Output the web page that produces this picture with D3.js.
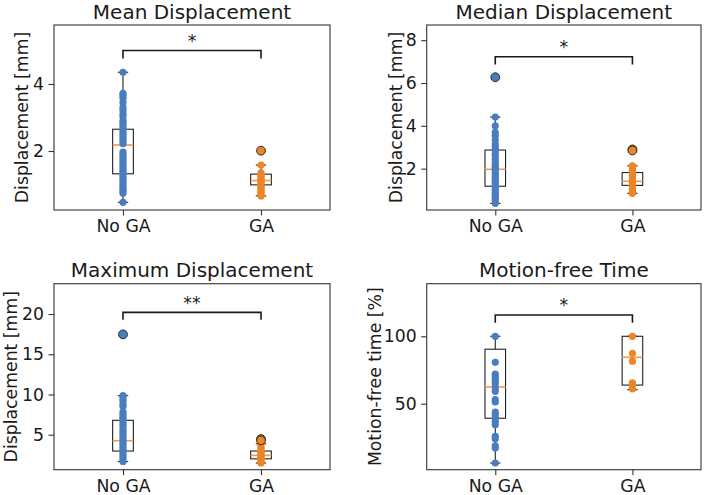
<!DOCTYPE html>
<html>
<head>
<meta charset="utf-8">
<script src="https://cdn.jsdelivr.net/npm/d3@7"></script>
<style>
  html, body { margin: 0; padding: 0; background: #fff; }
  svg { display: block; }
  text { font-family: "DejaVu Sans", sans-serif; fill: #1a1a1a; }
</style>
</head>
<body>
<svg id="chart" width="708" height="495"></svg>
<script>
// ---------------- DATA ----------------
const categories = ["No GA", "GA"];
const titles = ["Mean Displacement", "Median Displacement", "Maximum Displacement", "Motion-free Time"];
const yLabels = ["Displacement [mm]", "Displacement [mm]", "Displacement [mm]", "Motion-free time [%]"];
const yTicks = [[2, 4], [2, 4, 6, 8], [5, 10, 15, 20], [50, 100]];
const yDomains = [[0.24, 5.76], [0.07, 8.71], [0.65, 23.77], [1.04, 139]];
const significance = ["*", "*", "**", "*"];
// bracket: [top value, arm bottom value]
const brackets = [[5.0, 4.76], [7.23, 6.87], [20.2, 19.3], [115.8, 110.1]];

// Box stats: [whisker low, Q1, median, Q3, whisker high] for [No GA, GA]
const meanBoxes   = [[0.47, 1.32, 2.18, 2.65, 4.35], [0.66, 0.99, 1.12, 1.31, 1.58]];
const medianBoxes = [[0.38, 1.18, 1.97, 2.87, 4.41], [0.85, 1.22, 1.41, 1.82, 2.13]];
const maxBoxes    = [[1.67, 2.97, 4.25, 6.79, 9.85], [1.48, 2.00, 2.43, 2.97, 3.87]];
const freeBoxes   = [[6.0, 39.2, 62.4, 90.4, 100], [60.4, 63.8, 84.4, 100, 100]];

// Individual subject values
const meanNoGA = [4.35, 3.72, 3.65, 3.58, 3.45, 3.3, 3.22, 3.1, 3.02, 2.9, 2.85, 2.78, 2.7, 2.6, 2.52, 2.45, 2.38, 2.3, 2.22,
  1.97, 1.9, 1.82, 1.75, 1.68, 1.6, 1.52, 1.45, 1.38, 1.3, 1.22, 1.15, 1.08, 1.0, 0.93, 0.86, 0.8, 0.74, 0.47];
const meanGA = [2.01, 1.58, 1.35, 1.3, 1.25, 1.2, 1.15, 1.1, 1.05, 1.0, 0.95, 0.9, 0.85, 0.8, 0.75, 0.7, 0.66];
const medianNoGA = [6.27, 4.41, 4.0, 3.7, 3.55, 3.35, 3.15, 3.0, 2.85, 2.7, 2.6, 2.45, 2.3, 2.2, 2.1, 2.0, 1.9, 1.8, 1.7,
  1.6, 1.5, 1.4, 1.3, 1.2, 1.1, 1.0, 0.9, 0.8, 0.7, 0.6, 0.5, 0.38];
const medianGA = [2.9, 2.85, 2.13, 2.0, 1.9, 1.8, 1.7, 1.6, 1.5, 1.4, 1.3, 1.2, 1.1, 1.0, 0.9, 0.85];
const maxNoGA = [17.47, 9.85, 9.5, 9.2, 8.8, 8.5, 7.8, 7.5, 7.2, 7.0, 6.6, 6.3, 6.0, 5.6, 5.3, 5.0, 4.7, 4.4, 4.1, 3.8,
  3.5, 3.2, 2.9, 2.6, 2.3, 2.0, 1.67];
const maxGA = [4.46, 4.3, 3.87, 3.6, 3.3, 3.0, 2.8, 2.6, 2.4, 2.2, 2.0, 1.8, 1.6, 1.48];
const freeNoGA = [100, 80.7, 72, 70.3, 68.5, 66.6, 64.6, 61.6, 59.2, 53, 51.3, 43.8, 41.9, 39.4, 36.9, 34.4, 25.8, 24,
  18.8, 17.1, 6];
const freeGA = [100, 87.4, 81.5, 65.4, 63.7, 61];

const panelBoxes = [meanBoxes, medianBoxes, maxBoxes, freeBoxes];
const panelPoints = [[meanNoGA, meanGA], [medianNoGA, medianGA], [maxNoGA, maxGA], [freeNoGA, freeGA]];

// ---------------- STYLE / LAYOUT ----------------
const colors = ["#4a7dc0", "#ec8526"];
const medianColor = "#f39a45";
const colLeft = [54, 426.7], colRight = [330, 701];
const rowTop = [25, 283.7], rowBottom = [210, 469.7];
const boxWidth = 0.15, capWidth = 0.075;
const tickFont = 17.3, titleFont = 20;

const svg = d3.select("#chart");

titles.forEach((title, i) => {
  const col = i % 2, row = Math.floor(i / 2);
  const L = colLeft[col], R = colRight[col], T = rowTop[row], B = rowBottom[row];
  const x = d3.scaleLinear().domain([0.5, 2.5]).range([L, R]);
  const y = d3.scaleLinear().domain(yDomains[i]).range([B, T]);
  const g = svg.append("g");

  // y axis
  const ya = g.append("g").attr("transform", `translate(${L},0)`)
    .call(d3.axisLeft(y).tickValues(yTicks[i]).tickSize(5.5).tickPadding(4.5).tickFormat(d3.format("d")));
  ya.select(".domain").remove();
  ya.selectAll(".tick line").attr("stroke", "#333").attr("stroke-width", 1.1);
  ya.selectAll(".tick text").attr("font-size", tickFont).attr("font-family", "DejaVu Sans").attr("fill", "#1a1a1a");

  // x axis
  const xa = g.append("g").attr("transform", `translate(0,${B})`)
    .call(d3.axisBottom(x).tickValues([1, 2]).tickSize(5.5).tickPadding(4.5).tickFormat(d => categories[d - 1]));
  xa.select(".domain").remove();
  xa.selectAll(".tick line").attr("stroke", "#333").attr("stroke-width", 1.1);
  xa.selectAll(".tick text").attr("font-size", tickFont).attr("font-family", "DejaVu Sans").attr("fill", "#1a1a1a");

  // frame
  g.append("rect").attr("x", L).attr("y", T).attr("width", R - L).attr("height", B - T)
    .attr("fill", "none").attr("stroke", "#333").attr("stroke-width", 1.1);

  // title
  g.append("text").attr("x", (L + R) / 2).attr("y", T - 6.5).attr("text-anchor", "middle")
    .attr("font-size", titleFont).text(title);

  // y label
  const ylx = col === 0 ? (row === 0 ? 27.5 : 17) : (row === 0 ? 402 : 380.5);
  g.append("text").attr("transform", `translate(${ylx},${(T + B) / 2}) rotate(-90)`)
    .attr("text-anchor", "middle").attr("font-size", tickFont).text(yLabels[i]);

  // boxes
  panelBoxes[i].forEach((s, k) => {
    const pos = k + 1;
    const [wl, q1, med, q3, wh] = s;
    const bg = g.append("g").attr("stroke", "#222").attr("stroke-width", 1.1).attr("fill", "none");
    bg.append("rect").attr("x", x(pos - boxWidth / 2)).attr("y", y(q3))
      .attr("width", x(pos + boxWidth / 2) - x(pos - boxWidth / 2)).attr("height", y(q1) - y(q3));
    bg.append("line").attr("x1", x(pos)).attr("x2", x(pos)).attr("y1", y(q3)).attr("y2", y(wh));
    bg.append("line").attr("x1", x(pos)).attr("x2", x(pos)).attr("y1", y(q1)).attr("y2", y(wl));
    [wl, wh].forEach(v => bg.append("line").attr("x1", x(pos - capWidth / 2)).attr("x2", x(pos + capWidth / 2))
      .attr("y1", y(v)).attr("y2", y(v)));
    g.append("line").attr("x1", x(pos - boxWidth / 2)).attr("x2", x(pos + boxWidth / 2))
      .attr("y1", y(med)).attr("y2", y(med)).attr("stroke", medianColor).attr("stroke-width", 1.6);
  });

  // points
  panelPoints[i].forEach((vals, k) => {
    const pos = k + 1;
    const [wl, , , , wh] = panelBoxes[i][k];
    g.append("g").selectAll("circle").data(vals).join("circle")
      .attr("cx", x(pos)).attr("cy", d => y(d)).attr("r", 3.6).attr("fill", colors[k]);
    // fliers
    g.append("g").selectAll("circle").data(vals.filter(v => v > wh + 1e-9 || v < wl - 1e-9)).join("circle")
      .attr("cx", x(pos)).attr("cy", d => y(d)).attr("r", 4.4)
      .attr("fill", colors[k]).attr("stroke", "#2a2a2a").attr("stroke-width", 1);
  });

  // significance bracket
  const [bt, bb] = brackets[i];
  g.append("path")
    .attr("d", `M${x(1)},${y(bb)}V${y(bt)}H${x(2)}V${y(bb)}`)
    .attr("fill", "none").attr("stroke", "#1a1a1a").attr("stroke-width", 1.6);
  g.append("text").attr("x", (x(1) + x(2)) / 2).attr("y", y(bt) - 3.5).attr("text-anchor", "middle")
    .attr("font-size", tickFont).text(significance[i]);
});
</script>
</body>
</html>
